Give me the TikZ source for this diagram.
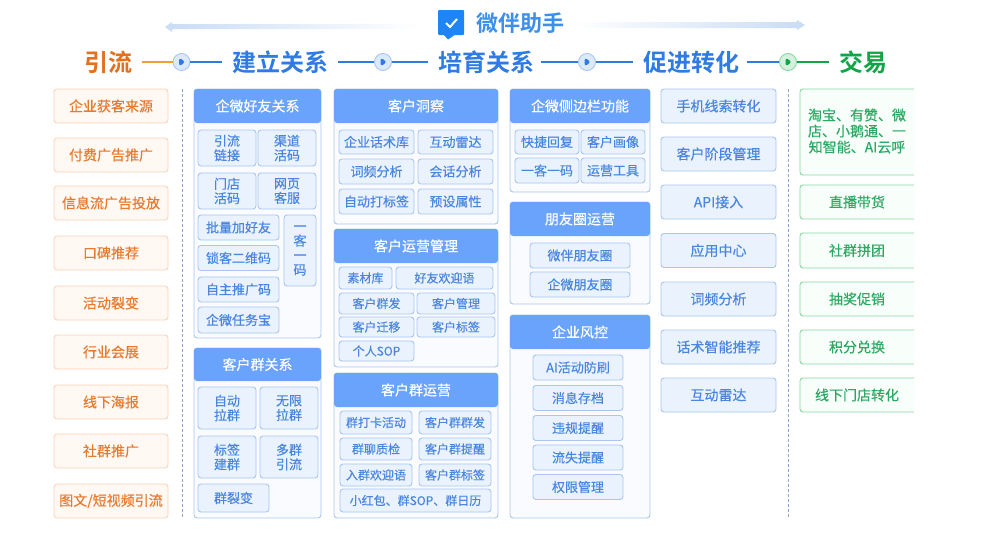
\documentclass[tikz,border=0pt]{standalone}
\usepackage{fontspec}
\setmainfont{Noto Sans CJK SC}[RawFeature={embolden=0.35},BoldFont={Noto Sans CJK SC Bold},BoldFeatures={RawFeature={embolden=0}}]
\usetikzlibrary{arrows,positioning}
\definecolor{headblue}{HTML}{6AA3FB}
\definecolor{titleblue}{HTML}{2F7BE3}
\definecolor{textblue}{HTML}{4A86E0}
\definecolor{lineblue}{HTML}{A9C6F0}
\definecolor{itemblue}{HTML}{E9F2FD}
\definecolor{cardblue}{HTML}{F9FBFF}
\definecolor{titleorange}{HTML}{E2701F}
\definecolor{textorange}{HTML}{E87A2E}
\definecolor{lineorange}{HTML}{FBD3B5}
\definecolor{fillorange}{HTML}{FFF8F3}
\definecolor{linkorange}{HTML}{F0A030}
\definecolor{titlegreen}{HTML}{12A548}
\definecolor{textgreen}{HTML}{2BA862}
\definecolor{linegreen}{HTML}{86D8A2}
\definecolor{fillgreen}{HTML}{F8FFFA}
\definecolor{dashblue}{HTML}{8FA6CC}
\definecolor{logoblue}{HTML}{1F85F5}
\definecolor{brandblue}{HTML}{3D8FEA}
\definecolor{banner}{HTML}{C9DCF5}

\begin{document}
\begin{tikzpicture}[x=1pt,y=-1pt,
    size/.style 2 args={minimum width=#1pt,minimum height=#2pt},
    every node/.style={inner sep=0pt,rounded corners=3pt,align=center},
    title node/.style={inner xsep=10pt,font=\fontsize{24}{26}\selectfont\bfseries},
    play node/.style n args={3}{circle,draw=#1,fill=#2,line width=.9pt,minimum size=17pt,
      path picture={\fill[#3] ([shift={(-2.5,-4.5)}]path picture bounding box.center)
        -- ([shift={(4,0)}]path picture bounding box.center)
        -- ([shift={(-2.5,4.5)}]path picture bounding box.center) -- cycle;}},
    play blue/.style={play node={lineblue}{itemblue!80!lineblue}{titleblue}},
    play green/.style={play node={linegreen}{linegreen!35}{titlegreen}},
    orange box/.style={draw=lineorange,fill=fillorange,text=textorange,line width=.9pt,size={114}{34},font=\fontsize{14}{16}\selectfont},
    blue box/.style={draw=lineblue,fill=itemblue,text=textblue,line width=.9pt,size={115}{34},font=\fontsize{14}{16}\selectfont},
    green text/.style={text=textgreen,font=\fontsize{14}{16}\selectfont},
    green frame/.style={draw=linegreen,fill=fillgreen,line width=.9pt,rounded corners=3pt},
    card/.style={draw=lineblue,fill=cardblue,line width=.9pt},
    head/.style={fill=headblue,text=white,font=\fontsize{14}{16}\selectfont},
    item/.style={draw=lineblue,fill=itemblue,text=textblue,line width=.9pt,font=\fontsize{13}{14.5}\selectfont},
    small item/.style={item,font=\fontsize{12}{14}\selectfont},
    rail/.style={draw=dashblue,densely dashed,line width=.8pt}]
  \useasboundingbox (0,0) rectangle (989,533);

  % top banner
  \shade[left color=banner,right color=white] (165,27) -- (172,22) -- (172,24) -- (420,24) -- (420,29) -- (172,29) -- (172,32) -- cycle;
  \shade[left color=white,right color=banner] (572,22) -- (797,22) -- (797,20) -- (805,25) -- (797,30) -- (797,28) -- (572,28) -- cycle;
  \node[fill=logoblue,rounded corners=1pt,size={26}{25}] (logo) at (451,22.5) {};
  \fill[logoblue] (443,34) -- (448,39.5) -- (456,34) -- cycle;
  \draw[white,line width=2pt] (446,23) -- (450,27) -- (457,19);
  \node[text=brandblue,anchor=west,font=\fontsize{22}{24}\selectfont\bfseries] (brand) at (476,23) {微伴助手};

  % stages
  \node[title node,text=titleorange] (s1) at (108,62) {引流};
  \node[title node,text=titleblue] (s2) at (280,62) {建立关系};
  \node[title node,text=titleblue] (s3) at (486,62) {培育关系};
  \node[title node,text=titleblue] (s4) at (691,62) {促进转化};
  \node[title node,text=titlegreen] (s5) at (863,62) {交易};
  \node[play blue] (p1) at (181.5,62) {};
  \node[play blue] (p2) at (383,62) {};
  \node[play blue] (p3) at (587,62) {};
  \node[play green] (p4) at (788,62) {};
  \draw[linkorange,line width=1.2pt] (s1) -- (p1);
  \draw[titleblue,line width=1.2pt] (p1) -- (s2);
  \draw[titleblue,line width=1.2pt] (s2) -- (p2);
  \draw[titleblue,line width=1.2pt] (p2) -- (s3);
  \draw[titleblue,line width=1.2pt,shorten <=-3pt] (s3) -- (p3);
  \draw[titleblue,line width=1.2pt] (p3) -- (s4);
  \draw[titleblue,line width=1.2pt,shorten <=-2pt] (s4) -- (p4);
  \draw[titlegreen,line width=1.2pt] (p4) -- (s5);

  % left column
  \node[orange box] (o1) at (111,106) {\raisebox{-.5pt}{企业获客来源}};
  \node[orange box] (o2) at (111,155) {\raisebox{-.5pt}{付费广告推广}};
  \node[orange box] (o3) at (111,203) {\raisebox{-.5pt}{信息流广告投放}};
  \node[orange box] (o4) at (111,253) {\raisebox{-.5pt}{口碑推荐}};
  \node[orange box] (o5) at (111,303) {\raisebox{-.5pt}{活动裂变}};
  \node[orange box] (o6) at (111,352) {\raisebox{-.5pt}{行业会展}};
  \node[orange box] (o7) at (111,402) {\raisebox{-.5pt}{线下海报}};
  \node[orange box] (o8) at (111,451) {\raisebox{-.5pt}{社群推广}};
  \node[orange box] (o9) at (111,501) {\raisebox{-.5pt}{图文/短视频引流}};
  \coordinate (r1a) at (182,89);
  \coordinate (r1b) at (182,518);
  \draw[rail] (r1a) -- (r1b);

  % friends card
  \node[card,size={127}{249}] (c1) at (257.5,213.5) {};
  \node[head,size={127}{34}] (h1) at (257.5,106) {企微好友关系};
  \node[item,size={58}{36}] (a1) at (227,148) {引流\\链接};
  \node[item,size={58}{36}] (a2) at (287,148) {渠道\\活码};
  \node[item,size={58}{36}] (a3) at (227,191) {门店\\活码};
  \node[item,size={58}{36}] (a4) at (287,191) {网页\\客服};
  \node[item,size={81}{25}] (a5) at (238.5,227.5) {批量加好友};
  \node[item,size={81}{25}] (a6) at (238.5,258) {锁客二维码};
  \node[item,size={81}{25}] (a7) at (238.5,289.5) {自主推广码};
  \node[item,size={81}{26}] (a8) at (238.5,320) {企微任务宝};
  \node[item,size={32}{71}] (a9) at (300,250.5) {一\\客\\一\\码};

  % group card
  \node[card,size={127}{170}] (c2) at (257.5,433) {};
  \node[head,size={127}{33}] (h2) at (257.5,364.5) {客户群关系};
  \node[item,size={58}{42}] (b1) at (227,408) {自动\\拉群};
  \node[item,size={58}{42}] (b2) at (289,408) {无限\\拉群};
  \node[item,size={58}{42}] (b3) at (227,457) {标签\\建群};
  \node[item,size={58}{42}] (b4) at (289,457) {多群\\引流};
  \node[item,size={71}{28}] (b5) at (233.5,498) {群裂变};

  % insight card
  \node[card,size={164}{135}] (c3) at (416,156.5) {};
  \node[head,size={164}{34}] (h3) at (416,106) {客户洞察};
  \node[item,size={75}{24}] (d1) at (376.5,142) {企业话术库};
  \node[item,size={75}{24}] (d2) at (455.5,142) {互动雷达};
  \node[item,size={75}{25}] (d3) at (376.5,171.5) {词频分析};
  \node[item,size={75}{25}] (d4) at (455.5,171.5) {会话分析};
  \node[item,size={75}{25}] (d5) at (376.5,201.5) {自动打标签};
  \node[item,size={75}{25}] (d6) at (455.5,201.5) {预设属性};

  % operation card
  \node[card,size={164}{138}] (c4) at (416,298) {};
  \node[head,size={164}{34}] (h4) at (416,246) {客户运营管理};
  \node[small item,size={53}{22}] (e1) at (365.5,278) {素材库};
  \node[small item,size={97}{22}] (e2) at (444.5,278) {好友欢迎语};
  \node[small item,size={75}{21}] (e3) at (376.5,303.5) {客户群发};
  \node[small item,size={78}{21}] (e4) at (456,303.5) {客户管理};
  \node[small item,size={75}{20}] (e5) at (376.5,327) {客户迁移};
  \node[small item,size={78}{20}] (e6) at (456,327) {客户标签};
  \node[small item,size={75}{20}] (e7) at (376.5,351) {个人SOP};

  % group operation card
  \node[card,size={164}{145}] (c5) at (416,445.5) {};
  \node[head,size={164}{34}] (h5) at (416,390) {客户群运营};
  \node[small item,size={72}{23}] (f1) at (376,422.5) {群打卡活动};
  \node[small item,size={72}{23}] (f2) at (455,422.5) {客户群群发};
  \node[small item,size={72}{22}] (f3) at (376,449) {群聊质检};
  \node[small item,size={72}{22}] (f4) at (455,449) {客户群提醒};
  \node[small item,size={72}{22}] (f5) at (376,475) {入群欢迎语};
  \node[small item,size={72}{22}] (f6) at (455,475) {客户群标签};
  \node[small item,size={151}{23}] (f7) at (415.5,500.5) {小红包、群SOP、群日历};

  % sidebar card
  \node[card,size={140}{103}] (c6) at (580,140.5) {};
  \node[head,size={140}{34}] (h6) at (580,106) {企微侧边栏功能};
  \node[item,size={64}{24}] (g1) at (547,142) {快捷回复};
  \node[item,size={64}{24}] (g2) at (613,142) {客户画像};
  \node[item,size={64}{25}] (g3) at (547,170.5) {一客一码};
  \node[item,size={64}{25}] (g4) at (613,170.5) {运营工具};

  % moments card
  \node[card,size={140}{102}] (c7) at (580,253) {};
  \node[head,size={140}{34}] (h7) at (580,219) {朋友圈运营};
  \node[item,size={100}{25}] (k1) at (580,255.5) {微伴朋友圈};
  \node[item,size={100}{25}] (k2) at (580,284.5) {企微朋友圈};

  % risk card
  \node[card,size={140}{203}] (c8) at (580,416.5) {};
  \node[head,size={140}{34}] (h8) at (580,332) {企业风控};
  \node[item,size={90}{25}] (m1) at (578,367.5) {AI活动防刷};
  \node[item,size={90}{25}] (m2) at (578,398) {消息存档};
  \node[item,size={90}{25}] (m3) at (578,428) {违规提醒};
  \node[item,size={90}{25}] (m4) at (578,457.5) {流失提醒};
  \node[item,size={90}{25}] (m5) at (578,487) {权限管理};

  % conversion column
  \node[blue box] (n1) at (718.5,106) {手机线索转化};
  \node[blue box] (n2) at (718.5,154) {客户阶段管理};
  \node[blue box] (n3) at (718.5,202) {API接入};
  \node[blue box] (n4) at (718.5,250.5) {应用中心};
  \node[blue box] (n5) at (718.5,299) {词频分析};
  \node[blue box] (n6) at (718.5,347) {话术智能推荐};
  \node[blue box] (n7) at (718.5,395) {互动雷达};
  \coordinate (r2a) at (788,89);
  \coordinate (r2b) at (788,518);
  \draw[rail] (r2a) -- (r2b);

  % deal column, boxes run off at the right
  \begin{scope}
    \clip (795,85) rectangle (914,416);
    \draw[green frame] (800,89) rectangle (925,175);
    \draw[green frame] (800,185) rectangle (925,219);
    \draw[green frame] (800,233) rectangle (925,268);
    \draw[green frame] (800,282) rectangle (925,316);
    \draw[green frame] (800,330) rectangle (925,364);
    \draw[green frame] (800,378) rectangle (925,412);
  \end{scope}
  \node[green text] (t1) at (857,131) {淘宝、有赞、微\\店、小鹅通、一\\知智能、AI云呼};
  \node[green text] (t2) at (857,202) {直播带货};
  \node[green text] (t3) at (857,250.5) {社群拼团};
  \node[green text] (t4) at (857,299) {抽奖促销};
  \node[green text] (t5) at (857,347) {积分兑换};
  \node[green text] (t6) at (857,395) {线下门店转化};
\end{tikzpicture}
\end{document}
